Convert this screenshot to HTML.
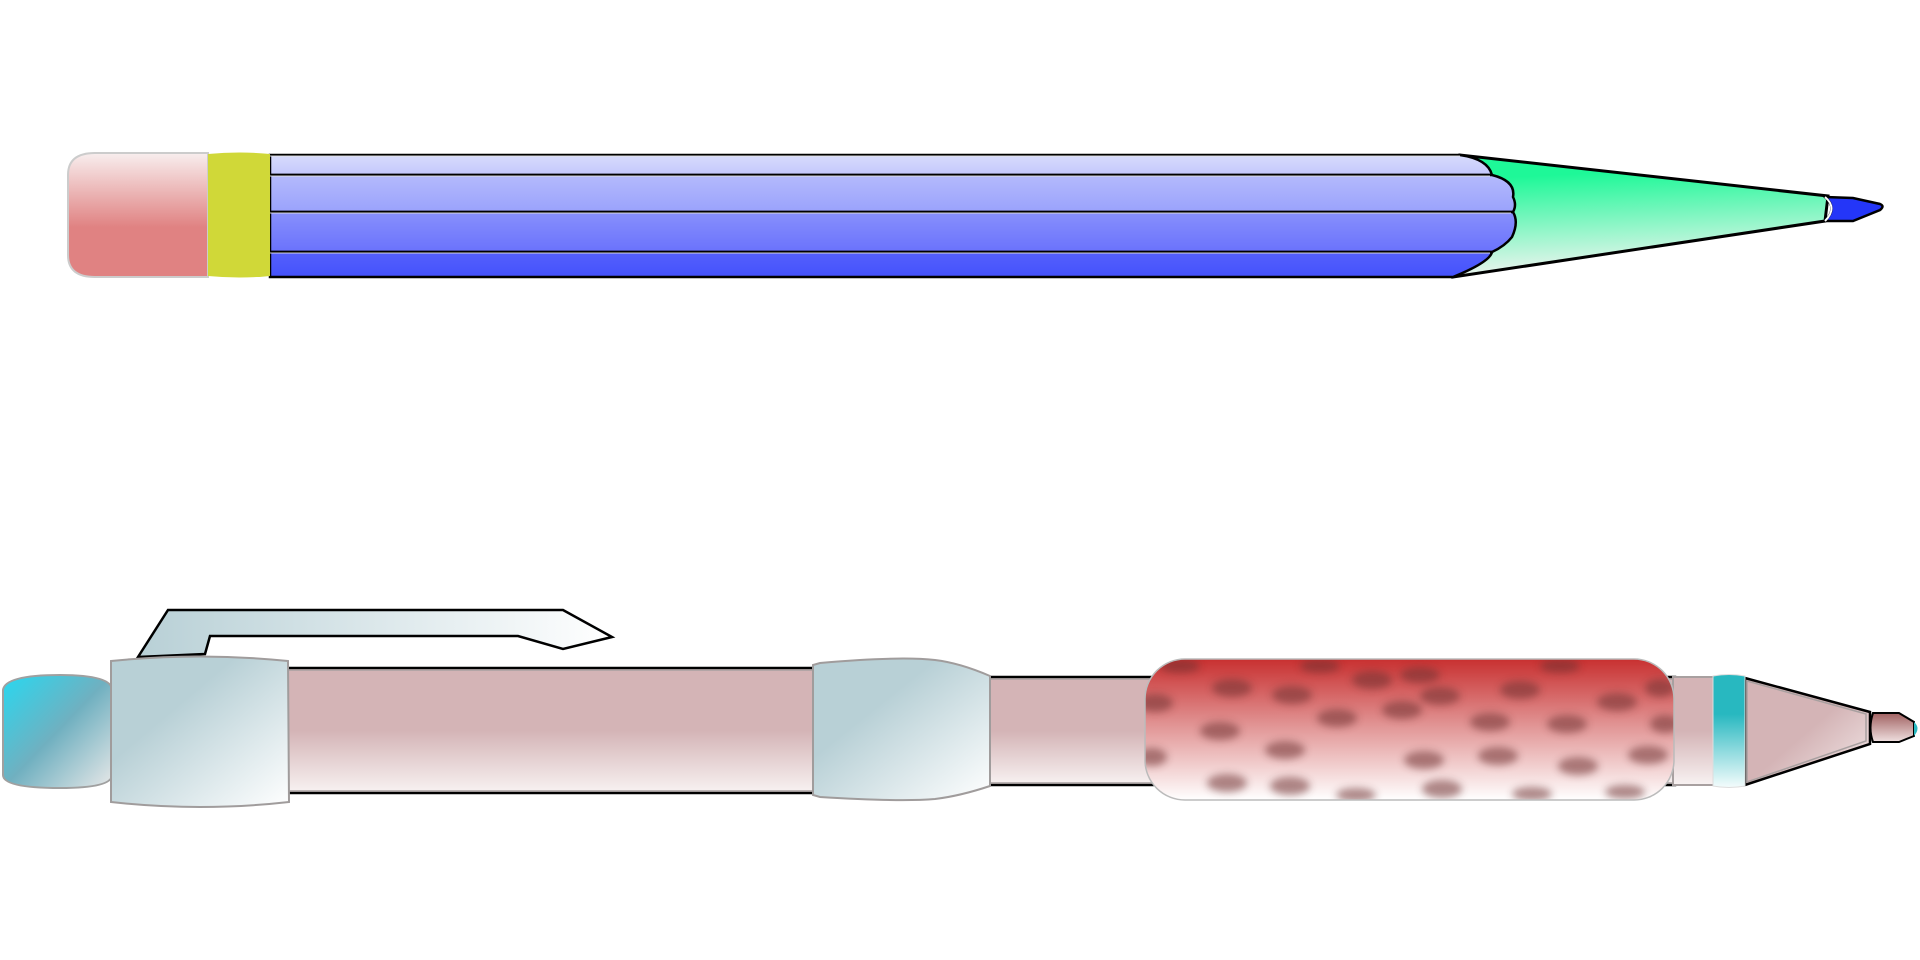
<!DOCTYPE html>
<html><head><style>html,body{margin:0;padding:0;background:#fff}svg{display:block}</style></head>
<body>
<svg width="1920" height="960" viewBox="0 0 1920 960" xmlns="http://www.w3.org/2000/svg">
<defs>
<linearGradient id="er" x1="0" y1="0" x2="0" y2="1"><stop offset="0" stop-color="#f8eeee"/><stop offset="0.6" stop-color="#e08282"/><stop offset="1" stop-color="#e08282"/></linearGradient>
<linearGradient id="b1" x1="0" y1="0" x2="0" y2="1"><stop offset="0" stop-color="#d8dcfc"/><stop offset="1" stop-color="#c4c8fc"/></linearGradient>
<linearGradient id="b2" x1="0" y1="0" x2="0" y2="1"><stop offset="0" stop-color="#b4bafc"/><stop offset="1" stop-color="#9aa2fc"/></linearGradient>
<linearGradient id="b3" x1="0" y1="0" x2="0" y2="1"><stop offset="0" stop-color="#8890fc"/><stop offset="1" stop-color="#6a72fc"/></linearGradient>
<linearGradient id="b4" x1="0" y1="0" x2="0" y2="1"><stop offset="0" stop-color="#5560fc"/><stop offset="1" stop-color="#4452fc"/></linearGradient>
<linearGradient id="cone" x1="0" y1="0" x2="0.15" y2="1"><stop offset="0.2" stop-color="#1ef898"/><stop offset="1" stop-color="#f0f4f0"/></linearGradient>
<linearGradient id="tube" x1="0" y1="0" x2="0" y2="1"><stop offset="0" stop-color="#d4b4b6"/><stop offset="0.5" stop-color="#d4b4b6"/><stop offset="1" stop-color="#f8f2f2"/></linearGradient>
<linearGradient id="grip" x1="0" y1="0" x2="1" y2="1"><stop offset="0" stop-color="#b8d0d6"/><stop offset="0.35" stop-color="#b8d0d6"/><stop offset="1" stop-color="#ffffff"/></linearGradient>
<linearGradient id="clip" x1="0" y1="0" x2="1" y2="0"><stop offset="0" stop-color="#b8d0d6"/><stop offset="1" stop-color="#ffffff"/></linearGradient>
<linearGradient id="cap" x1="0" y1="0" x2="1" y2="1"><stop offset="0" stop-color="#28d8f0"/><stop offset="0.5" stop-color="#70b0c0"/><stop offset="1" stop-color="#e8e8e8"/></linearGradient>
<linearGradient id="spot" x1="0" y1="0" x2="0" y2="1"><stop offset="0" stop-color="#c83030"/><stop offset="0.45" stop-color="#e09090"/><stop offset="1" stop-color="#ffffff"/></linearGradient>
<linearGradient id="teal" x1="0" y1="0" x2="0" y2="1"><stop offset="0.35" stop-color="#28b8c0"/><stop offset="1" stop-color="#f4fcfc"/></linearGradient>
<linearGradient id="pcone" x1="0" y1="0" x2="1" y2="1"><stop offset="0.5" stop-color="#d4b4b6"/><stop offset="1" stop-color="#f4eaea"/></linearGradient>
<linearGradient id="ptip" x1="0" y1="0" x2="0" y2="1"><stop offset="0" stop-color="#a06060"/><stop offset="1" stop-color="#f0e0e0"/></linearGradient>
<filter id="bl"><feGaussianBlur stdDeviation="4"/></filter>
<clipPath id="gc"><rect x="1145" y="659" width="529" height="141" rx="40"/></clipPath>
</defs>

<!-- PENCIL -->
<path d="M1453,277 L1460,155 L1828,196 L1825,221 Z" fill="url(#cone)" stroke="#000" stroke-width="3"/>
<path d="M1825,197 Q1838,208 1825,221 L1853,221 L1880,210 Q1885,206 1880,204 L1853,198 Z" fill="#2436f8" stroke="#000" stroke-width="2.5"/>
<path d="M1825,197 Q1838,208 1825,221" fill="none" stroke="#fff" stroke-width="2"/>
<path d="M270,155 L1460,155 Q1488,159 1492,175 L270,175 Z" fill="url(#b1)" stroke="#000" stroke-width="2.5"/>
<path d="M270,175 L1492,175 Q1516,181 1513,197 Q1517,205 1513,212 L270,212 Z" fill="url(#b2)" stroke="#000" stroke-width="2.5"/>
<path d="M270,212 L1513,212 Q1519,222 1512,237 Q1505,246 1492,252 L270,252 Z" fill="url(#b3)" stroke="#000" stroke-width="2.5"/>
<path d="M270,252 L1492,252 Q1490,262 1453,277 L270,277 Z" fill="url(#b4)" stroke="#000" stroke-width="2.5"/>
<path d="M270,156 L1460,156 M270,176 L1490,176 M270,213 L1511,213 M270,253 L1490,253" stroke="#fff" stroke-width="1" fill="none" opacity="0.8"/>
<path d="M95,153 L208,153 L208,277 L95,277 Q68,277 68,255 L68,175 Q68,153 95,153 Z" fill="url(#er)" stroke="#ccc" stroke-width="2"/>
<path d="M208,154 Q240,151 270,154 L270,276 Q240,279 208,276 Z" fill="#d0d838"/>

<!-- PEN -->
<path d="M138,657 L168,610 L563,610 L612,637 L563,649 L518,636 L210,636 L205,654 Z" fill="url(#clip)" stroke="#000" stroke-width="2.5"/>
<path d="M3,690 Q5,675 60,675 Q112,675 112,690 L112,775 Q112,788 60,788 Q3,788 3,775 Z" fill="url(#cap)" stroke="#a0a0a0" stroke-width="2"/>
<rect x="285" y="668" width="530" height="125" fill="url(#tube)" stroke="#000" stroke-width="2.5"/>
<rect x="287" y="670" width="526" height="121" fill="none" stroke="#a8a0a0" stroke-width="1.5"/>
<path d="M111,661 Q200,652 288,661 L289,802 Q200,812 111,802 Z" fill="url(#grip)" stroke="#a09c9c" stroke-width="2"/>
<rect x="985" y="677" width="690" height="108" fill="url(#tube)" stroke="#000" stroke-width="2.5"/>
<rect x="987" y="679" width="686" height="104" fill="none" stroke="#a8a0a0" stroke-width="1.5"/>
<path d="M820,663 Q900,656 935,660 Q960,663 990,676 L990,786 Q960,796 935,799 Q900,802 820,797 L813,795 L813,665 Z" fill="url(#grip)" stroke="#a09c9c" stroke-width="2"/>
<rect x="1673" y="677" width="42" height="108" fill="url(#tube)" stroke="#a8a0a0" stroke-width="2"/>
<path d="M1745,678 L1870,712 L1870,744 L1745,785 Z" fill="url(#pcone)" stroke="#000" stroke-width="2.5"/>
<path d="M1747,681 L1866,714 L1866,741 L1747,782 Z" fill="none" stroke="#a8a0a0" stroke-width="1.5"/>
<path d="M1713,676 Q1729,673 1745,676 L1745,786 Q1729,789 1713,786 Z" fill="url(#teal)" stroke="#ddd" stroke-width="1"/>
<path d="M1873,713 L1899,713 L1914,722 L1914,736 L1899,742 L1873,742 Q1868,728 1873,713 Z" fill="url(#ptip)" stroke="#000" stroke-width="2"/>
<path d="M1914,722 Q1921,728 1914,736 Z" fill="#28b8c0"/>
<g clip-path="url(#gc)">
<rect x="1145" y="659" width="529" height="141" fill="url(#spot)"/>
<g filter="url(#bl)" fill="#703030" opacity="0.55">
<ellipse cx="1180" cy="666" rx="20" ry="7"/><ellipse cx="1320" cy="666" rx="20" ry="7"/><ellipse cx="1420" cy="675" rx="20" ry="8"/><ellipse cx="1560" cy="666" rx="20" ry="7"/>
<ellipse cx="1232" cy="688" rx="20" ry="9"/><ellipse cx="1292" cy="695" rx="20" ry="9"/><ellipse cx="1372" cy="680" rx="20" ry="9"/><ellipse cx="1440" cy="696" rx="20" ry="9"/><ellipse cx="1520" cy="690" rx="20" ry="9"/><ellipse cx="1617" cy="702" rx="20" ry="9"/><ellipse cx="1660" cy="688" rx="15" ry="9"/>
<ellipse cx="1155" cy="703" rx="18" ry="9"/><ellipse cx="1337" cy="718" rx="20" ry="9"/><ellipse cx="1402" cy="710" rx="20" ry="9"/><ellipse cx="1490" cy="722" rx="20" ry="9"/><ellipse cx="1567" cy="724" rx="20" ry="9"/><ellipse cx="1665" cy="724" rx="15" ry="9"/>
<ellipse cx="1220" cy="731" rx="20" ry="9"/><ellipse cx="1285" cy="750" rx="20" ry="9"/><ellipse cx="1424" cy="760" rx="20" ry="9"/><ellipse cx="1498" cy="756" rx="20" ry="9"/><ellipse cx="1578" cy="766" rx="20" ry="9"/><ellipse cx="1648" cy="755" rx="20" ry="9"/>
<ellipse cx="1152" cy="757" rx="15" ry="9"/><ellipse cx="1227" cy="783" rx="20" ry="9"/><ellipse cx="1290" cy="786" rx="20" ry="9"/><ellipse cx="1356" cy="795" rx="20" ry="7"/><ellipse cx="1442" cy="789" rx="20" ry="9"/><ellipse cx="1532" cy="794" rx="20" ry="7"/><ellipse cx="1625" cy="792" rx="20" ry="7"/>
</g>
</g>
<rect x="1145" y="659" width="529" height="141" rx="40" fill="none" stroke="#bbb" stroke-width="1.5"/>
</svg>
</body></html>
